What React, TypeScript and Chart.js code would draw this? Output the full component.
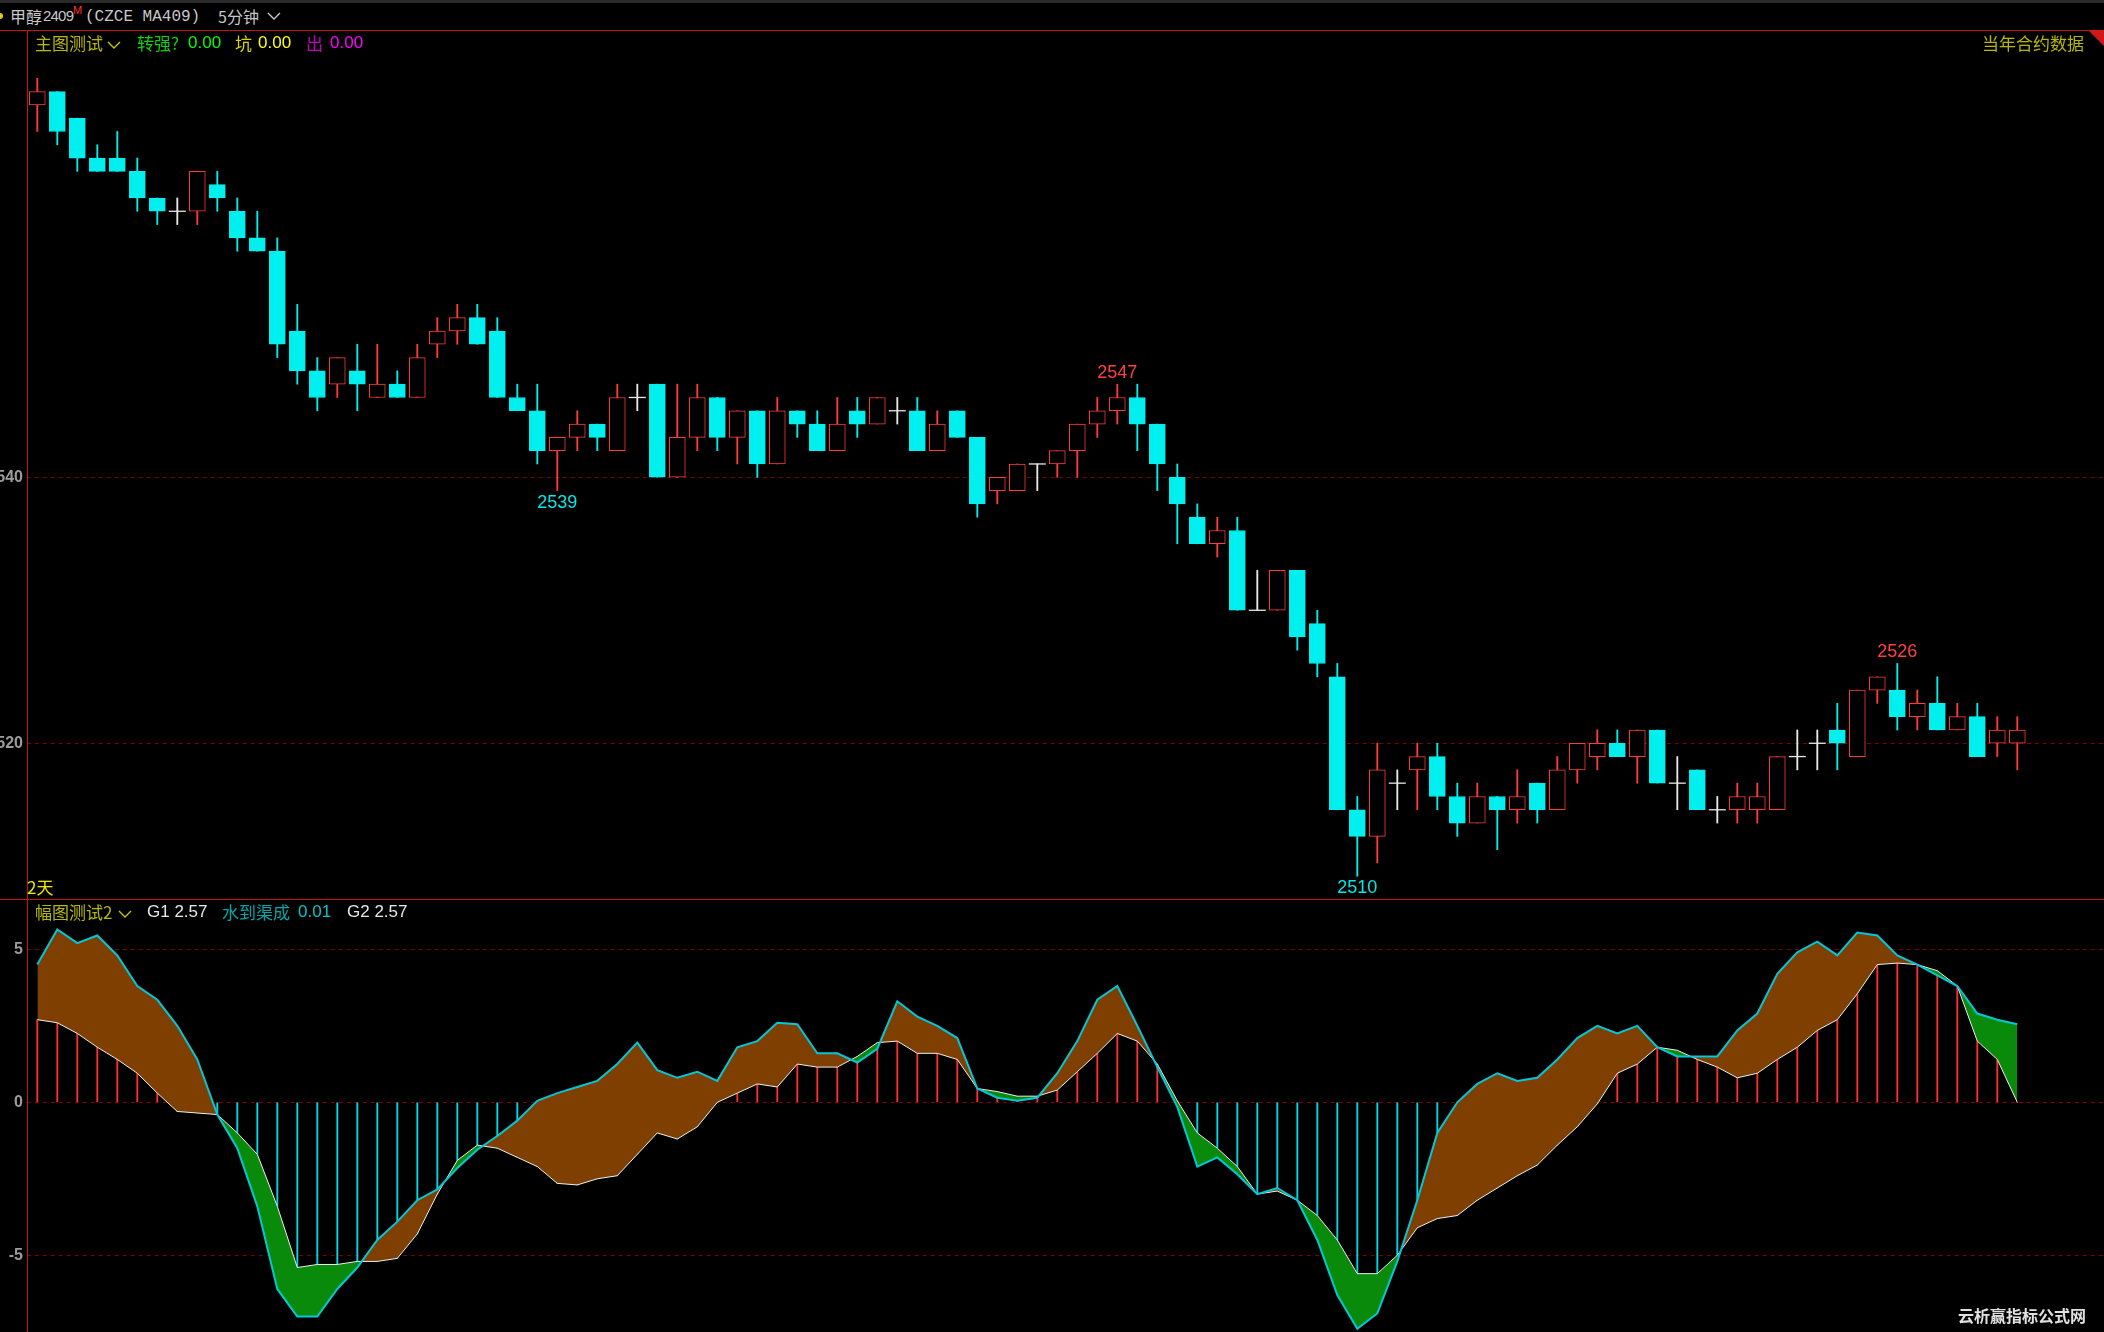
import React, { useEffect, useRef } from 'react';
import { Chart, registerables } from 'chart.js';

Chart.register(...registerables);

// ---------- DATA ----------
const opens = [2568,2569,2567,2564,2564,2563,2561,2560,2560,2562,2560,2558,2557,2551,2548,2547,2548,2546,2547,2546,2550,2551,2552,2551,2546,2545,2542,2543,2544,2542,2546,2547,2540,2543,2546,2543,2545,2541,2545,2544,2542,2545,2544,2545,2545,2542,2545,2543,2539,2539,2541,2541,2542,2544,2545,2546,2544,2540,2537,2535,2536,2530,2530,2533,2529,2525,2515,2513,2517,2518,2519,2516,2514,2516,2515,2517,2515,2518,2519,2520,2519,2521,2517,2518,2515,2515,2515,2515,2519,2520,2521,2519,2524,2524,2522,2523,2521,2522,2520,2520];
const highs = [2570,2569,2567,2565,2566,2564,2561,2561,2563,2563,2561,2560,2558,2553,2549,2549,2550,2550,2548,2550,2552,2553,2553,2552,2547,2547,2543,2545,2544,2547,2547,2547,2547,2547,2546,2545,2545,2546,2545,2545,2546,2546,2546,2546,2546,2545,2545,2543,2540,2541,2541,2542,2544,2546,2547,2547,2544,2541,2538,2537,2537,2533,2533,2533,2530,2526,2516,2520,2518,2520,2520,2517,2517,2516,2518,2517,2519,2520,2521,2521,2521,2521,2519,2518,2516,2517,2517,2519,2521,2521,2523,2524,2525,2526,2524,2525,2523,2523,2522,2522];
const lows = [2566,2565,2563,2563,2563,2560,2559,2559,2559,2560,2557,2557,2549,2547,2545,2546,2545,2546,2546,2546,2549,2550,2550,2546,2545,2541,2539,2542,2542,2542,2545,2540,2540,2542,2542,2541,2540,2541,2543,2542,2542,2543,2544,2544,2542,2542,2543,2537,2538,2539,2539,2540,2540,2543,2544,2542,2539,2535,2535,2534,2530,2530,2530,2527,2525,2515,2510,2511,2515,2515,2515,2513,2514,2512,2514,2514,2515,2517,2518,2519,2517,2517,2515,2515,2514,2514,2514,2515,2518,2518,2518,2519,2523,2521,2521,2521,2521,2519,2519,2518];
const closes = [2569,2566,2564,2563,2563,2561,2560,2560,2563,2561,2558,2557,2550,2548,2546,2549,2547,2547,2546,2549,2551,2552,2550,2546,2545,2542,2543,2544,2543,2546,2546,2540,2543,2546,2543,2545,2541,2545,2544,2542,2544,2544,2546,2545,2542,2544,2543,2538,2540,2541,2541,2542,2544,2545,2546,2544,2541,2538,2535,2536,2530,2530,2533,2528,2526,2515,2513,2518,2517,2519,2516,2514,2516,2515,2516,2515,2518,2520,2520,2519,2521,2517,2517,2515,2515,2516,2516,2519,2519,2520,2520,2524,2525,2522,2523,2521,2522,2519,2521,2521];

const g1 = [4.5,5.65,5.2,5.45,4.8,3.8,3.35,2.5,1.4,-0.4,-1.5,-3.4,-6.1,-7.0,-7.0,-6.1,-5.4,-4.5,-3.9,-3.2,-2.85,-2.15,-1.55,-1.1,-0.6,0.05,0.3,0.5,0.7,1.25,1.95,1.05,0.8,1.0,0.7,1.8,2.0,2.6,2.55,1.6,1.6,1.3,1.75,3.3,2.8,2.5,2.1,0.45,0.15,0.05,0.15,0.95,2.0,3.35,3.8,2.5,1.15,-0.15,-2.1,-1.8,-2.35,-3.0,-2.8,-3.2,-4.5,-6.3,-7.4,-6.9,-5.2,-3.2,-1.0,0,0.6,0.95,0.7,0.8,1.4,2.1,2.5,2.25,2.5,1.8,1.5,1.5,1.5,2.35,2.9,4.2,4.9,5.25,4.8,5.55,5.45,4.8,4.5,4.15,3.8,2.9,2.7,2.55];
const g2 = [2.7,2.6,2.25,1.8,1.4,0.95,0.3,-0.3,-0.35,-0.4,-1.0,-1.7,-3.4,-5.4,-5.3,-5.3,-5.2,-5.2,-5.1,-4.3,-3.0,-1.9,-1.4,-1.5,-1.8,-2.1,-2.65,-2.7,-2.5,-2.4,-1.7,-1.0,-1.2,-0.8,0,0.3,0.6,0.5,1.25,1.15,1.15,1.5,1.95,2.0,1.6,1.6,1.4,0.45,0.35,0.2,0.2,0.4,1.0,1.6,2.25,2.0,1.25,0.05,-1.0,-1.5,-2.1,-3.0,-2.9,-3.2,-3.7,-4.5,-5.6,-5.6,-5.0,-4.1,-3.8,-3.7,-3.2,-2.8,-2.4,-2.05,-1.4,-0.8,-0.05,0.95,1.25,1.8,1.7,1.4,1.15,0.8,0.95,1.4,1.8,2.35,2.7,3.55,4.5,4.55,4.5,4.3,3.8,2.0,1.4,0];
const bandSwitchBar = 97; // from this bar on, the band is painted in the second colour

const priceTicks = [2520, 2540];
const indTicks = [-5, 0, 5];
const markLabels = [
  { bar: 27, value: 2539, below: true },
  { bar: 55, value: 2547, below: false },
  { bar: 67, value: 2510, below: true },
  { bar: 94, value: 2526, below: false },
];

// ---------- LAYOUT / STYLE ----------
const CYAN = '#00f0f0';
const RED = '#ff3c3c';
const WHITE = '#e8e8e8';
const BROWN = '#7f3f00';
const GREEN = '#0a8a0a';
const CANVAS_LEFT = -20;
const CANVAS_W = 2124;
const AXIS_W = 47;
const X_MIN = 0.485;
const X_MAX = 104.335;

const bars = opens.map((_, i) => i + 1);

function tickFont() {
  return { family: 'Liberation Sans, Arial, sans-serif', size: 16, weight: 'bold' as const };
}

function fixAxis(s: any) {
  s.width = AXIS_W;
  s.paddingTop = 0;
  s.paddingBottom = 0;
  s.paddingLeft = 0;
  s.paddingRight = 0;
}

const markPlugin = {
  id: 'marks',
  afterDatasetsDraw(chart: any) {
    const { ctx, scales } = chart;
    ctx.save();
    ctx.font = '18px "Liberation Sans", Arial, sans-serif';
    ctx.textAlign = 'center';
    ctx.textBaseline = 'middle';
    markLabels.forEach((m) => {
      const x = scales.x.getPixelForValue(m.bar);
      const y = scales.y.getPixelForValue(m.value);
      ctx.fillStyle = m.below ? '#00e8e8' : '#ff4040';
      ctx.fillText(String(m.value), x, m.below ? y + 12 : y - 11);
    });
    ctx.restore();
  },
};

function MainChart() {
  const ref = useRef<HTMLCanvasElement>(null);
  useEffect(() => {
    const up = bars.map((_, i) => closes[i] > opens[i]);
    const doji = bars.map((_, i) => closes[i] === opens[i]);
    const colorOf = (i: number) => (doji[i] ? WHITE : up[i] ? RED : CYAN);
    const chart = new Chart(ref.current!, {
      type: 'bar',
      data: {
        datasets: [
          {
            type: 'bar',
            data: bars.map((b, i) => ({ x: b, y: doji[i] ? null : [opens[i], closes[i]] })) as any,
            backgroundColor: bars.map((_, i) => (up[i] ? '#000000' : CYAN)),
            borderColor: bars.map((_, i) => colorOf(i)),
            borderWidth: 1,
            borderSkipped: false,
            barThickness: 16,
            grouped: false,
          } as any,
          {
            type: 'line',
            data: bars.map((b, i) => ({ x: b, y: doji[i] ? closes[i] : null })) as any,
            showLine: false,
            pointStyle: 'line',
            pointRadius: 8.5,
            pointBorderColor: WHITE,
            pointBorderWidth: 1.3,
            pointHoverRadius: 8.5,
          } as any,
          {
            type: 'bar',
            data: bars.map((b, i) => ({ x: b, y: [lows[i], highs[i]] })) as any,
            backgroundColor: bars.map((_, i) => colorOf(i)),
            borderWidth: 0,
            barThickness: 1.2,
            grouped: false,
          } as any,
        ],
      },
      options: {
        animation: false,
        responsive: false,
        devicePixelRatio: 1,
        layout: { padding: 0, autoPadding: false } as any,
        plugins: { legend: { display: false }, tooltip: { enabled: false } },
        scales: {
          x: { type: 'linear', min: X_MIN, max: X_MAX, display: false, offset: false },
          y: {
            min: 2508.29,
            max: 2573.63,
            afterBuildTicks: (s: any) => {
              s.ticks = priceTicks.map((v) => ({ value: v }));
            },
            afterFit: fixAxis,
            ticks: { color: '#9c9c9c', font: tickFont(), padding: 4 },
            grid: { color: '#800000', drawTicks: false, lineWidth: 1 },
            border: { display: false, dash: [4, 4] },
          },
        },
      } as any,
      plugins: [markPlugin],
    });
    return () => chart.destroy();
  }, []);
  return (
    <canvas
      ref={ref}
      width={CANVAS_W}
      height={869}
      style={{ position: 'absolute', left: CANVAS_LEFT, top: 30, width: CANVAS_W, height: 869 }}
    />
  );
}

function IndChart() {
  const ref = useRef<HTMLCanvasElement>(null);
  useEffect(() => {
    const part = (arr: number[], first: boolean) =>
      bars.map((b, i) => ({ x: b, y: first ? (b <= bandSwitchBar ? arr[i] : null) : b >= bandSwitchBar ? arr[i] : null }));
    const hidden = { borderWidth: 0, pointRadius: 0, tension: 0, borderColor: 'rgba(0,0,0,0)' };
    const chart = new Chart(ref.current!, {
      type: 'line',
      data: {
        datasets: [
          {
            type: 'line',
            data: bars.map((b, i) => ({ x: b, y: g1[i] })),
            borderColor: '#00c8d8',
            borderWidth: 2,
            pointRadius: 0,
            tension: 0,
            fill: false,
          } as any,
          {
            type: 'line',
            data: bars.map((b, i) => ({ x: b, y: g2[i] })),
            borderColor: '#f0f0f0',
            borderWidth: 1,
            pointRadius: 0,
            tension: 0,
            fill: false,
          } as any,
          { type: 'line', data: part(g1, true), ...hidden, fill: { target: '+1', above: BROWN, below: GREEN } } as any,
          { type: 'line', data: part(g2, true), ...hidden, fill: false } as any,
          { type: 'line', data: part(g1, false), ...hidden, fill: { target: '+1', above: GREEN, below: BROWN } } as any,
          { type: 'line', data: part(g2, false), ...hidden, fill: false } as any,
          {
            type: 'bar',
            data: bars.map((b, i) => ({ x: b, y: [0, g2[i]] })) as any,
            backgroundColor: bars.map((_, i) => (g2[i] >= 0 ? '#ff3030' : '#00d8e8')),
            borderWidth: 0,
            barThickness: 1.2,
            grouped: false,
          } as any,
        ],
      },
      options: {
        animation: false,
        responsive: false,
        devicePixelRatio: 1,
        layout: { padding: 0, autoPadding: false } as any,
        plugins: { legend: { display: false }, tooltip: { enabled: false } },
        scales: {
          x: { type: 'linear', min: X_MIN, max: X_MAX, display: false, offset: false },
          y: {
            min: -7.507,
            max: 6.644,
            afterBuildTicks: (s: any) => {
              s.ticks = indTicks.map((v) => ({ value: v }));
            },
            afterFit: fixAxis,
            ticks: { color: '#9c9c9c', font: tickFont(), padding: 4 },
            grid: { color: '#800000', drawTicks: false, lineWidth: 1 },
            border: { display: false, dash: [4, 4] },
          },
        },
      } as any,
    });
    return () => chart.destroy();
  }, []);
  return (
    <canvas
      ref={ref}
      width={CANVAS_W}
      height={433}
      style={{ position: 'absolute', left: CANVAS_LEFT, top: 899, width: CANVAS_W, height: 433 }}
    />
  );
}

const CJK = '"Noto Sans CJK SC", "Liberation Sans", sans-serif';
const SANS = '"Liberation Sans", Arial, "Noto Sans CJK SC", sans-serif';
const MONO = '"Liberation Mono", monospace';

function T(props: { x: number; y: number; c: string; s?: number; f?: string; w?: any; children: any; ls?: number }) {
  const s = props.s || 17;
  return (
    <span
      style={{
        position: 'absolute',
        left: props.x,
        top: props.y - 12,
        height: 24,
        lineHeight: '24px',
        fontSize: s,
        fontFamily: props.f || SANS,
        fontWeight: props.w || 'normal',
        color: props.c,
        whiteSpace: 'nowrap',
        letterSpacing: props.ls || 0,
      }}
    >
      {props.children}
    </span>
  );
}

function Chevron(props: { x: number; y: number; c: string }) {
  return (
    <svg style={{ position: 'absolute', left: props.x, top: props.y - 4 }} width={14} height={9}>
      <polyline points="1,1 7,7 13,1" fill="none" stroke={props.c} strokeWidth={1.4} />
    </svg>
  );
}

export default function App() {
  const line = '#c41414';
  return (
    <div
      style={{
        position: 'fixed',
        left: 0,
        top: 0,
        width: 2104,
        height: 1332,
        background: '#000',
        overflow: 'hidden',
      }}
    >
      <MainChart />
      <IndChart />
      {/* frame */}
      <div style={{ position: 'absolute', left: 0, top: 0, width: 2104, height: 3, background: '#2a2a2a' }} />
      <div style={{ position: 'absolute', left: 0, top: 30, width: 2104, height: 1, background: line }} />
      <div style={{ position: 'absolute', left: 0, top: 899, width: 2104, height: 1, background: line }} />
      <div style={{ position: 'absolute', left: 27, top: 30, width: 1, height: 1302, background: line }} />
      <svg style={{ position: 'absolute', left: 2088, top: 30 }} width={16} height={16}>
        <polygon points="0,0 16,0 16,16" fill="#d01818" />
      </svg>
      <div style={{ position: 'absolute', left: -3, top: 13, width: 6, height: 6, borderRadius: 3, background: '#e0d000' }} />

      {/* header */}
      <T x={10} y={16} c="#c8c8c8" s={16} f={CJK}>甲醇</T>
      <T x={43} y={16} c="#c8c8c8" s={15} f={SANS} ls={-0.8}>2409</T>
      <T x={73} y={10} c="#ff3030" s={11} f={SANS}>M</T>
      <T x={85} y={17} c="#c8c8c8" s={16} f={MONO}>(CZCE MA409)</T>
      <T x={218} y={16} c="#c8c8c8" s={16} f={CJK}>5分钟</T>
      <Chevron x={267} y={16} c="#c8c8c8" />

      {/* main legend */}
      <T x={35} y={43} c="#b8b800" s={17} f={CJK}>主图测试</T>
      <Chevron x={107} y={45} c="#c8c800" />
      <T x={137} y={43} c="#10d010" s={17} f={CJK}>转强?</T>
      <T x={188} y={43} c="#00ff00" s={17}>0.00</T>
      <T x={235} y={43} c="#d8d800" s={17} f={CJK}>坑</T>
      <T x={258} y={43} c="#ffff00" s={17}>0.00</T>
      <T x={306} y={43} c="#c000c0" s={17} f={CJK}>出</T>
      <T x={330} y={43} c="#ff00ff" s={17}>0.00</T>
      <T x={1982} y={43} c="#b8b800" s={17} f={CJK}>当年合约数据</T>
      <T x={27} y={887} c="#e8e800" s={17} f={CJK}>2天</T>

      {/* sub legend */}
      <T x={35} y={912} c="#b8b800" s={17} f={CJK}>幅图测试2</T>
      <Chevron x={118} y={914} c="#c8c800" />
      <T x={147} y={912} c="#e8e8e8" s={17}>G1 2.57</T>
      <T x={222} y={912} c="#00a8a8" s={17} f={CJK}>水到渠成</T>
      <T x={298} y={912} c="#00c8c8" s={17}>0.01</T>
      <T x={347} y={912} c="#e8e8e8" s={17}>G2 2.57</T>

      <T x={1958} y={1315} c="#e0e0e0" s={16} w="bold" f={CJK}>云析赢指标公式网</T>
    </div>
  );
}
